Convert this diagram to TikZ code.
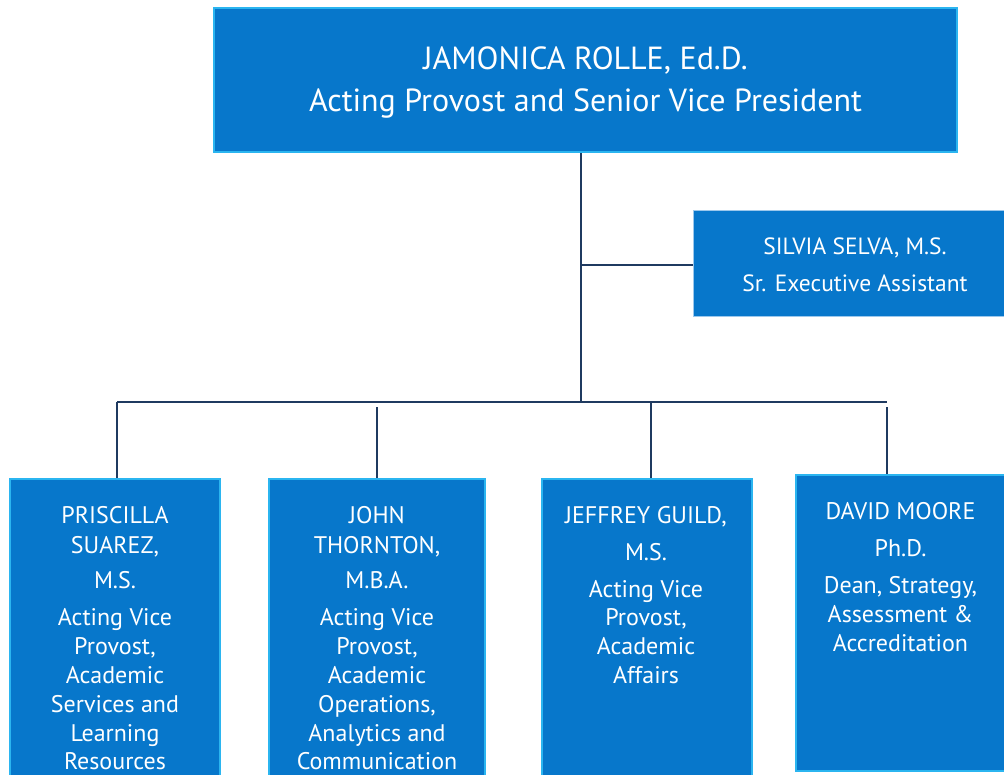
\documentclass[tikz,border=0pt]{standalone}
\usepackage{fontspec}
\setmainfont{PT Sans}
\definecolor{boxblue}{HTML}{0777CB}
\definecolor{edgecyan}{HTML}{2BB5F0}
\definecolor{edgepale}{HTML}{9CC8EC}
\definecolor{linenavy}{HTML}{1F3A60}
\tikzset{
  box/.style={rectangle, draw=edgecyan, line width=2pt, fill=boxblue, inner sep=0pt},
  lbl/.style={text=white, inner sep=0pt, anchor=base, font=\fontsize{24}{28}\selectfont},
  biglbl/.style={lbl, font=\fontsize{32}{38}\selectfont},
  midlbl/.style={lbl, font=\fontsize{23.5}{28}\selectfont},
  conn/.style={draw=linenavy, line width=2pt},
}
\begin{document}
\begin{tikzpicture}[x=1pt,y=-1pt]
\clip (0,0) rectangle (1004,774);
\fill[white] (0,0) rectangle (1004,774);

% boxes
\node[box, minimum width=743pt, minimum height=144pt] (top) at (585.5,80) {};
\node[box, draw=edgepale, line width=1pt, minimum width=313pt, minimum height=106pt] (sil) at (849.5,263) {};
\node[box, minimum width=210pt, minimum height=301pt] (pri) at (115,629.5) {};
\node[box, minimum width=216pt, minimum height=301pt] (joh) at (377,629.5) {};
\node[box, minimum width=210pt, minimum height=301pt] (jef) at (647,629.5) {};
\node[box, minimum width=210pt, minimum height=296pt] (dav) at (901,623) {};

% connectors
\coordinate (tk) at (581,402);
\coordinate (sj) at (581,265);
\coordinate (bl) at (117,402);
\coordinate (br) at (887,402);
\coordinate (jb) at (377,407);
\coordinate (fb) at (651,402);
\coordinate (db) at (887,407);
\draw[conn] (top.south -| tk) -- (tk);
\draw[conn] (sj) -- (sj -| sil.west);
\draw[conn] (bl) -- (br);
\draw[conn] (bl) -- (bl |- pri.north);
\draw[conn] (jb) -- (jb |- joh.north);
\draw[conn] (fb) -- (fb |- jef.north);
\draw[conn] (db) -- (db |- dav.north);

% top text
\node[biglbl] (t1) at (585.5,69) {JAMONICA ROLLE, Ed.D.};
\node[biglbl] (t2) at (585.5,111) {Acting Provost and Senior Vice President};

% silvia
\node[midlbl] (s1) at (855,254) {SILVIA SELVA, M.S.};
\node[midlbl] (s2) at (855,291) {Sr. Executive Assistant};

% priscilla
\node[lbl] (p1) at (115,523) {PRISCILLA};
\node[lbl] (p2) at (115,553) {SUAREZ,};
\node[lbl] (p3) at (115,588) {M.S.};
\node[lbl] (p4) at (115,625) {Acting Vice};
\node[lbl] (p5) at (115,654) {Provost,};
\node[lbl] (p6) at (115,683) {Academic};
\node[lbl] (p7) at (115,712) {Services and};
\node[lbl] (p8) at (115,741) {Learning};
\node[lbl] (p9) at (115,769) {Resources};

% john
\node[lbl] (j1) at (377,523) {JOHN};
\node[lbl] (j2) at (377,553) {THORNTON,};
\node[lbl] (j3) at (377,588) {M.B.A.};
\node[lbl] (j4) at (377,625) {Acting Vice};
\node[lbl] (j5) at (377,654) {Provost,};
\node[lbl] (j6) at (377,683) {Academic};
\node[lbl] (j7) at (377,712) {Operations,};
\node[lbl] (j8) at (377,741) {Analytics and};
\node[lbl] (j9) at (377,769) {Communication};

% jeffrey
\node[lbl] (f1) at (646,523) {JEFFREY GUILD,};
\node[lbl] (f2) at (646,560) {M.S.};
\node[lbl] (f3) at (646,597) {Acting Vice};
\node[lbl] (f4) at (646,625) {Provost,};
\node[lbl] (f5) at (646,654) {Academic};
\node[lbl] (f6) at (646,683) {Affairs};

% david
\node[lbl] (d1) at (900.5,519) {DAVID MOORE};
\node[lbl] (d2) at (900.5,556) {Ph.D.};
\node[lbl] (d3) at (900.5,593) {Dean, Strategy,};
\node[lbl] (d4) at (900.5,622) {Assessment \&};
\node[lbl] (d5) at (900.5,651) {Accreditation};
\end{tikzpicture}
\end{document}
